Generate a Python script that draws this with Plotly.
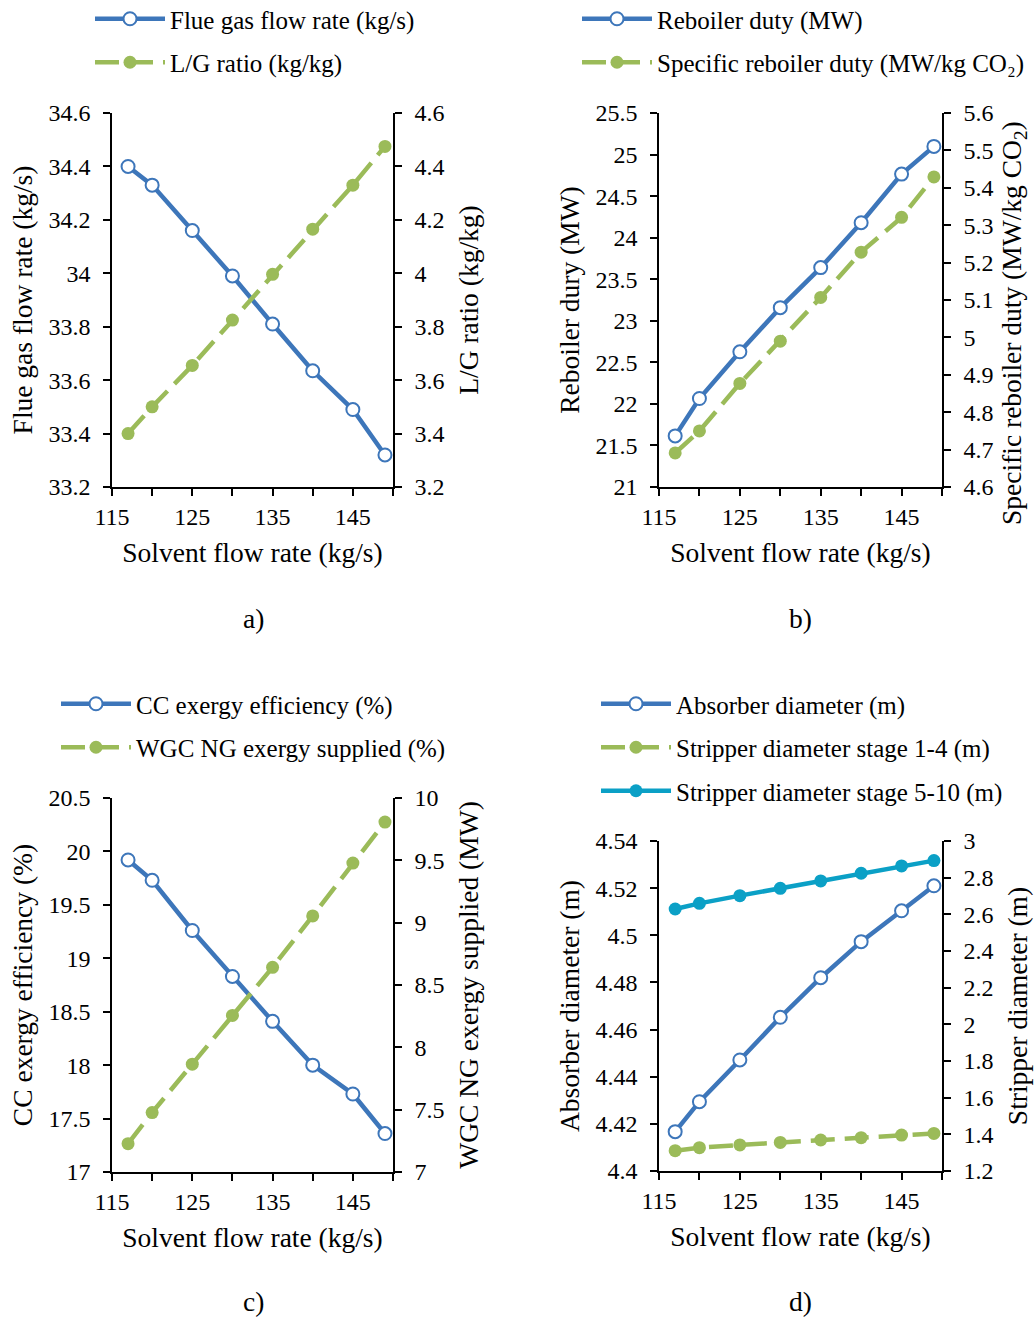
import plotly.graph_objects as go

# ---------------- data ----------------
solvent = [117, 120, 125, 130, 135, 140, 145, 149]
flue_gas = [34.40, 34.33, 34.16, 33.99, 33.81, 33.635, 33.49, 33.32]
lg_ratio = [3.40, 3.50, 3.655, 3.825, 3.996, 4.165, 4.33, 4.475]
reboiler = [21.615, 22.065, 22.627, 23.158, 23.64, 24.18, 24.765, 25.098]
spec_reb = [4.691, 4.75, 4.877, 4.99, 5.107, 5.228, 5.321, 5.429]
cc_eff = [19.92, 19.73, 19.26, 18.83, 18.41, 18.0, 17.73, 17.36]
wgc_ng = [7.227, 7.477, 7.865, 8.256, 8.642, 9.054, 9.478, 9.807]
absorber = [4.4167, 4.4294, 4.4471, 4.4652, 4.482, 4.4973, 4.5104, 4.521]
strip_1_4 = [1.311, 1.327, 1.342, 1.356, 1.369, 1.382, 1.396, 1.405]
strip_5_10 = [2.629, 2.66, 2.702, 2.742, 2.782, 2.824, 2.864, 2.893]

x_tickvals = [115, 120, 125, 130, 135, 140, 145, 150]
x_ticktext = ["115", "", "125", "", "135", "", "145", ""]

FONT = "Liberation Serif"
FS_TICK = 24
FS_LEG = 25
FS_TITLE = 27.5
BLUE = "#3D76BA"
GREEN = "#9BBB59"
TEAL = "#0BA0C6"
DASH = "24px,10px"

fig = go.Figure()

panels = [
    dict(xd=[112/1035, 393/1035], yd=[1-487/1317, 1-113/1317],
         yl=[33.2, 34.6], dl=0.2, yr=[3.2, 4.6], dr=0.2,
         tl="Flue gas flow rate (kg/s)", tr="L/G ratio (kg/kg)", tr_annot=None,
         leg=(90/1035, 1+4/1317), lab="a)", labx=253/1035),
    dict(xd=[659/1035, 942/1035], yd=[1-487/1317, 1-113/1317],
         yl=[21, 25.5], dl=0.5, yr=[4.6, 5.6], dr=0.1,
         tl="Reboiler dury (MW)", tr="",
         tr_annot=("Specific reboiler duty (MW/kg CO<sub>2</sub>)", 1014/1035, 1-323/1317),
         leg=(577/1035, 1+4/1317), lab="b)", labx=800/1035),
    dict(xd=[112/1035, 393/1035], yd=[1-1172/1317, 1-798/1317],
         yl=[17, 20.5], dl=0.5, yr=[7, 10], dr=0.5,
         tl="CC exergy efficiency (%)", tr="WGC NG exergy supplied (MW)", tr_annot=None,
         leg=(56/1035, 1-681/1317), lab="c)", labx=253/1035),
    dict(xd=[659/1035, 942/1035], yd=[1-1171/1317, 1-841/1317],
         yl=[4.4, 4.54], dl=0.02, yr=[1.2, 3.0], dr=0.2,
         tl="Absorber diameter (m)", tr="Stripper diameter (m)", tr_annot=None,
         leg=(596/1035, 1-681/1317), lab="d)", labx=800/1035),
]

series = [
    [("Flue gas flow rate (kg/s)", flue_gas, "L", "open", BLUE),
     ("L/G ratio (kg/kg)", lg_ratio, "R", "dash", GREEN)],
    [("Reboiler duty (MW)", reboiler, "L", "open", BLUE),
     ("Specific reboiler duty (MW/kg CO₂)", spec_reb, "R", "dash", GREEN)],
    [("CC exergy efficiency (%)", cc_eff, "L", "open", BLUE),
     ("WGC NG exergy supplied (%)", wgc_ng, "R", "dash", GREEN)],
    [("Absorber diameter (m)", absorber, "L", "open", BLUE),
     ("Stripper diameter stage 1-4 (m)", strip_1_4, "R", "dash", GREEN),
     ("Stripper diameter stage 5-10 (m)", strip_5_10, "R", "solid", TEAL)],
]

tickfont = dict(family=FONT, size=FS_TICK, color="black")
titlefont = dict(family=FONT, size=FS_TITLE, color="black")
layout = dict(
    width=1035, height=1317, margin=dict(l=0, r=0, t=0, b=0, autoexpand=False),
    paper_bgcolor="white", plot_bgcolor="rgba(0,0,0,0)",
    font=dict(family=FONT, size=FS_TICK, color="black"),
    showlegend=True, annotations=[],
)

def axname(prefix, n):
    return prefix + ("" if n == 1 else str(n))

TL = 7
for i, p in enumerate(panels):
    xn = i + 1
    yln = 2 * i + 1
    yrn = 2 * i + 2
    xref = axname("x", xn)
    ylref = axname("y", yln)
    yrref = axname("y", yrn)
    common_line = dict(showline=True, linecolor="black", linewidth=1.5,
                       showgrid=False, zeroline=False, ticklen=TL, tickwidth=1.5,
                       tickcolor="black", tickfont=tickfont, automargin=False)
    layout[axname("xaxis", xn)] = dict(domain=p["xd"], anchor=ylref, range=[115, 150],
                                       tickmode="array", tickvals=x_tickvals, ticktext=x_ticktext,
                                       ticks="outside", ticklabelstandoff=0,
                                       title=dict(text="Solvent flow rate (kg/s)", standoff=14,
                                                  font=titlefont),
                                       **common_line)
    layout[axname("yaxis", yln)] = dict(domain=p["yd"], anchor=xref, range=p["yl"],
                                        dtick=p["dl"], tick0=p["yl"][0], ticks="outside",
                                        ticklabelstandoff=8,
                                        title=dict(text=p["tl"], standoff=8, font=titlefont),
                                        **common_line)
    layout[axname("yaxis", yrn)] = dict(overlaying=ylref, side="right", anchor=xref,
                                        range=p["yr"], dtick=p["dr"], tick0=p["yr"][0],
                                        ticks="outside", ticklabelstandoff=8,
                                        title=dict(text=p["tr"], standoff=15, font=titlefont),
                                        **common_line)
    if p["tr_annot"]:
        t, ax_, ay_ = p["tr_annot"]
        layout["annotations"].append(dict(text=t, x=ax_, y=ay_, xref="paper", yref="paper",
                                          showarrow=False, textangle=-90, xanchor="center",
                                          yanchor="middle", font=titlefont))
    # inside-tick overlays to make crossing tick marks
    xin = 4 + xn
    layout[axname("xaxis", xin)] = dict(overlaying=xref, anchor=ylref, side="bottom",
                                        range=[115, 150], tickmode="array", tickvals=x_tickvals,
                                        ticks="inside", showticklabels=False, showline=False,
                                        showgrid=False, zeroline=False, ticklen=TL,
                                        tickwidth=1.5, tickcolor="black", automargin=False)
    for (rng, dt, side, n) in [(p["yl"], p["dl"], "left", 8 + 2 * i + 1),
                               (p["yr"], p["dr"], "right", 8 + 2 * i + 2)]:
        layout[axname("yaxis", n)] = dict(overlaying=ylref, anchor=xref, side=side,
                                          range=rng, dtick=dt, tick0=rng[0],
                                          ticks="inside", showticklabels=False,
                                          showline=False, showgrid=False, zeroline=False,
                                          ticklen=TL, tickwidth=1.5, tickcolor="black",
                                          automargin=False)
    legname = "legend" if i == 0 else "legend%d" % (i + 1)
    layout[legname] = dict(x=p["leg"][0], y=p["leg"][1], xanchor="left", yanchor="top",
                           bgcolor="rgba(0,0,0,0)", itemwidth=70, traceorder="grouped",
                           tracegroupgap=8, font=dict(family=FONT, size=FS_LEG, color="black"))
    layout["annotations"].append(dict(text=p["lab"], x=p["labx"],
                                      y=1 - 618/1317 if i < 2 else 1 - 1301/1317,
                                      xref="paper", yref="paper", showarrow=False,
                                      xanchor="center", yanchor="middle",
                                      font=titlefont))
    for j, (name, vals, side, style, color) in enumerate(series[i]):
        if style == "open":
            marker = dict(symbol="circle", size=13, color="white",
                          line=dict(color=color, width=2))
            line = dict(color=color, width=4.5)
        elif style == "dash":
            marker = dict(symbol="circle", size=13, color=color, line=dict(width=0))
            line = dict(color=color, width=4.5, dash=DASH)
        else:
            marker = dict(symbol="circle", size=13, color=color, line=dict(width=0))
            line = dict(color=color, width=4.5)
        fig.add_trace(go.Scatter(
            x=solvent, y=vals, name=name, mode="lines+markers",
            xaxis=xref, yaxis=ylref if side == "L" else yrref,
            line=line, marker=marker, legend=legname,
            legendgroup="g%d_%d" % (i, j), cliponaxis=False,
        ))

fig.update_layout(**layout)
fig.write_html("out.html", config={"displayModeBar": False},
               post_script="document.body.style.margin='0px';")
